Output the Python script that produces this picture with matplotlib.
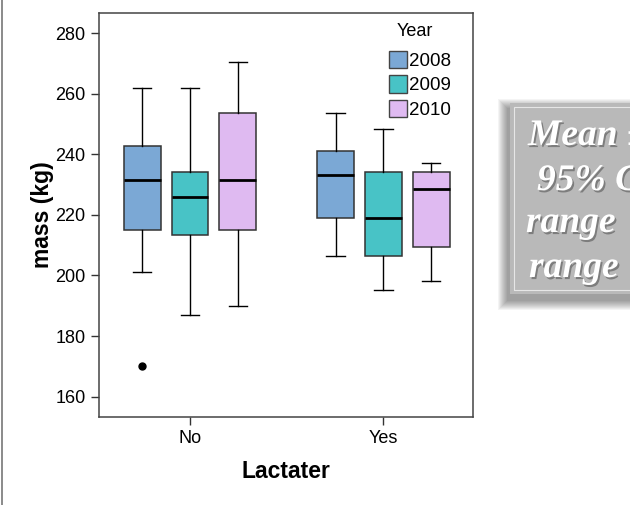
import matplotlib.pyplot as plt
import matplotlib.patheffects as pe
from matplotlib.patches import Rectangle, Patch
from matplotlib.lines import Line2D

# values
groups = ['No', 'Yes']
years = ['2008', '2009', '2010']
colors = ['#7ba8d5', '#48c3c6', '#dfbaf1']

# per group, per year: lower whisker, q1, median, q3, upper whisker
whislo = [[201.0, 187.1, 189.8], [206.5, 195.3, 198.2]]
q1 = [[214.9, 213.4, 214.9], [218.9, 206.5, 209.3]]
med = [[231.5, 225.9, 231.5], [233.0, 218.9, 228.7]]
q3 = [[242.7, 234.3, 253.7], [241.2, 234.3, 234.3]]
whishi = [[262.0, 262.0, 270.4], [253.7, 248.2, 237.1]]
fliers = [[[170.2], [], []], [[], [], []]]

plt.rcParams['font.family'] = ['Liberation Sans', 'DejaVu Sans']

fig = plt.figure(figsize=(6.3, 5.05), dpi=100)
ax = fig.add_axes([0.157, 0.175, 0.594, 0.799])

offset = 0.247
width = 0.191
for g in range(len(groups)):
    for k in range(len(years)):
        stats = [dict(whislo=whislo[g][k], q1=q1[g][k], med=med[g][k],
                      q3=q3[g][k], whishi=whishi[g][k], fliers=fliers[g][k])]
        ax.bxp(stats, positions=[g + (k - 1) * offset], widths=width,
               patch_artist=True, manage_ticks=False,
               boxprops=dict(facecolor=colors[k], edgecolor='#333333', linewidth=1.1),
               medianprops=dict(color='black', linewidth=2.0),
               whiskerprops=dict(color='black', linewidth=1.0),
               capprops=dict(color='black', linewidth=1.0),
               capwidths=width * 0.5,
               flierprops=dict(marker='o', markerfacecolor='black',
                               markeredgecolor='black', markersize=5))

ax.set_xlim(-0.471, 1.464)
ax.set_ylim(153.4, 286.6)
ax.set_xticks(range(len(groups)))
ax.set_xticklabels(groups)
ax.set_yticks([160, 180, 200, 220, 240, 260, 280])
ax.tick_params(labelsize=13, length=6, width=1.0, color='#333333', direction='out')
for s in ax.spines.values():
    s.set_color('#444444')
    s.set_linewidth(1.1)
ax.set_xlabel('Lactater', fontsize=16.5, fontweight='bold', va='center')
ax.set_ylabel('mass (kg)', fontsize=16.5, fontweight='bold', va='center')
ax.xaxis.set_label_coords(0.5, -0.137)
ax.yaxis.set_label_coords(-0.152, 0.5)

handles = [Patch(facecolor=c, edgecolor='#444444') for c in colors]
ax.text(0.845, 0.955, 'Year', transform=ax.transAxes, fontsize=13,
        ha='center', va='center')
leg = ax.legend(handles, years, loc='upper right', frameon=False,
                fontsize=13.5, handlelength=0.95, handleheight=1.05,
                handletextpad=0.1, labelspacing=0.28, borderaxespad=0.0,
                bbox_to_anchor=(0.96, 0.925))

# gray note box on the right, cut by the figure edge
W, H = 630, 505
for i in range(10, 0, -1):
    fig.patches.append(Rectangle(((510 - i - 2) / W, (H - 294 - i - 6) / H),
                                 (140 + 2 * i) / W, (191 + 2 * i) / H,
                                 transform=fig.transFigure, facecolor='black',
                                 edgecolor='none', alpha=0.045))
fig.patches.append(Rectangle((510 / W, (H - 294) / H), 130 / W, 191 / H,
                             transform=fig.transFigure, facecolor='#b9b9b9',
                             edgecolor='none'))
fig.patches.append(Rectangle((514 / W, (H - 290) / H), 130 / W, 183 / H,
                             transform=fig.transFigure, facecolor='none',
                             edgecolor='#e6e6e6', linewidth=0.8))
note_lines = ['Mean ±', '95% CI', 'range', 'range']
note_x = [528, 537, 526, 529]
note_base = [145, 190, 232, 277]
shadow = [pe.SimplePatchShadow(offset=(1.2, -1.5), shadow_rgbFace='#555555', alpha=0.6),
          pe.Normal()]
for txt, x, y in zip(note_lines, note_x, note_base):
    fig.text(x / W, (H - y) / H, txt, fontsize=27, fontweight='bold',
             fontstyle='italic', family='Liberation Serif', color='white',
             va='baseline', ha='left', path_effects=shadow)

fig.add_artist(Line2D([1.5 / W, 1.5 / W], [0, 1], transform=fig.transFigure,
                      color='#777777', linewidth=1.2))

fig.savefig('out.png', dpi=100)
